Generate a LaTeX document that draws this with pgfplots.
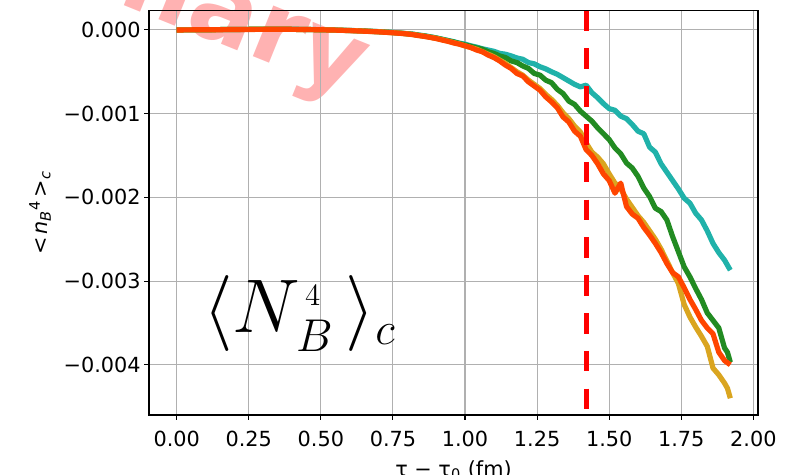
\RequirePackage{fix-cm}
\documentclass[border=0pt]{standalone}
\usepackage{pgfplots}
\pgfplotsset{compat=1.18}
\usepackage{fontspec}
\setmainfont{DejaVu Sans}
\newfontfamily\wmfont{DejaVu Sans}
\DeclareMathSizes{38}{38}{23}{15.5}
\definecolor{cteal}{RGB}{32,178,170}
\definecolor{cgreen}{RGB}{34,139,34}
\definecolor{cgold}{RGB}{218,165,32}
\definecolor{corange}{RGB}{255,69,0}
\definecolor{cgrid}{RGB}{176,176,176}

\pgfplotstableread{
x y
0.00 0
0.05 0.000001
0.10 0.000003
0.15 0.000004
0.20 0.000006
0.25 0.000007
0.30 0.000008
0.35 0.000009
0.40 0.000008
0.45 0.000006
0.50 0.000003
0.55 -0.000001
0.60 -0.000006
0.65 -0.000012
0.70 -0.00002
0.75 -0.00003
0.78 -0.000038
0.80 -0.000045
0.82 -0.00005
0.84 -0.000062
0.86 -0.00007
0.88 -0.000082
0.90 -0.000095
0.92 -0.00011
0.94 -0.000125
0.96 -0.00014
0.98 -0.000158
1.00 -0.00017
1.02 -0.00019
1.04 -0.000205
1.06 -0.000225
1.08 -0.00024
1.10 -0.000255
1.12 -0.00028
1.14 -0.00029
1.16 -0.00031
1.18 -0.000335
1.20 -0.00035
1.22 -0.00039
1.24 -0.000405
1.26 -0.00044
1.28 -0.000465
1.30 -0.0005
1.32 -0.00053
1.34 -0.00057
1.36 -0.00061
1.38 -0.00065
1.40 -0.00068
1.42 -0.00066
1.44 -0.00075
1.46 -0.00081
1.48 -0.00088
1.50 -0.00094
1.52 -0.00096
1.54 -0.00103
1.56 -0.00106
1.58 -0.00113
1.60 -0.00121
1.62 -0.00124
1.64 -0.00140
1.66 -0.00146
1.68 -0.00160
1.70 -0.00170
1.72 -0.00180
1.74 -0.00190
1.76 -0.00201
1.78 -0.00207
1.80 -0.00219
1.82 -0.00227
1.84 -0.00240
1.86 -0.00255
1.88 -0.00266
1.90 -0.00275
1.92 -0.00287
}\tealdata

\pgfplotstableread{
x y
0.00 0
0.05 0.000001
0.10 0.000002
0.15 0.000004
0.20 0.000005
0.25 0.000007
0.30 0.000008
0.35 0.000008
0.40 0.000007
0.45 0.000005
0.50 0.000002
0.55 -0.000002
0.60 -0.000007
0.65 -0.000013
0.70 -0.000021
0.75 -0.000032
0.78 -0.00004
0.80 -0.000046
0.82 -0.000053
0.84 -0.000063
0.86 -0.000072
0.88 -0.000085
0.90 -0.000097
0.92 -0.000112
0.94 -0.000128
0.96 -0.000143
0.98 -0.000162
1.00 -0.00018
1.02 -0.000195
1.04 -0.000215
1.06 -0.00023
1.08 -0.00026
1.10 -0.00028
1.12 -0.00031
1.14 -0.00033
1.16 -0.00037
1.18 -0.00039
1.20 -0.00043
1.22 -0.00046
1.24 -0.00052
1.26 -0.00054
1.28 -0.0006
1.30 -0.00063
1.32 -0.00071
1.34 -0.00076
1.36 -0.00085
1.38 -0.00089
1.40 -0.00097
1.42 -0.00103
1.44 -0.00109
1.46 -0.00117
1.48 -0.00124
1.50 -0.00131
1.52 -0.00141
1.54 -0.00148
1.56 -0.00159
1.58 -0.00165
1.60 -0.00175
1.62 -0.00189
1.64 -0.00199
1.66 -0.00213
1.68 -0.00217
1.70 -0.00227
1.72 -0.00247
1.74 -0.00265
1.76 -0.00283
1.78 -0.00295
1.80 -0.00309
1.82 -0.00322
1.84 -0.00338
1.86 -0.00347
1.88 -0.00356
1.90 -0.00380
1.91 -0.00385
1.92 -0.00397
}\greendata

\pgfplotstableread{
x y
0.00 0
0.05 0.000001
0.10 0.000002
0.15 0.000004
0.20 0.000006
0.25 0.000007
0.30 0.000008
0.35 0.000008
0.40 0.000007
0.45 0.000005
0.50 0.000002
0.55 -0.000002
0.60 -0.000007
0.65 -0.000014
0.70 -0.000022
0.75 -0.000033
0.78 -0.00004
0.80 -0.000047
0.82 -0.000055
0.84 -0.000066
0.86 -0.000075
0.88 -0.000088
0.90 -0.0001
0.92 -0.000116
0.94 -0.000133
0.96 -0.00015
0.98 -0.000168
1.00 -0.00019
1.02 -0.00021
1.04 -0.00023
1.06 -0.00026
1.08 -0.00029
1.10 -0.00032
1.12 -0.00036
1.14 -0.0004
1.16 -0.00045
1.18 -0.0005
1.20 -0.00054
1.22 -0.0006
1.24 -0.00065
1.26 -0.0007
1.28 -0.00077
1.30 -0.00083
1.32 -0.0009
1.34 -0.00099
1.36 -0.00106
1.38 -0.00115
1.40 -0.00122
1.42 -0.00135
1.44 -0.00146
1.46 -0.00152
1.48 -0.0016
1.50 -0.00172
1.52 -0.00183
1.54 -0.0019
1.56 -0.00202
1.58 -0.00212
1.60 -0.00222
1.62 -0.0023
1.64 -0.0024
1.66 -0.0025
1.68 -0.00262
1.70 -0.00276
1.72 -0.0029
1.74 -0.00303
1.76 -0.00328
1.78 -0.00343
1.80 -0.00355
1.82 -0.00366
1.84 -0.00378
1.86 -0.00404
1.88 -0.00412
1.90 -0.00422
1.91 -0.00428
1.92 -0.00440
}\golddata

\pgfplotstableread{
x y
0.00 0
0.05 0.000001
0.10 0.000002
0.15 0.000003
0.20 0.000005
0.25 0.000006
0.30 0.000007
0.35 0.000008
0.40 0.000007
0.45 0.000005
0.50 0.000002
0.55 -0.000002
0.60 -0.000008
0.65 -0.000015
0.70 -0.000023
0.75 -0.000034
0.78 -0.000042
0.80 -0.000048
0.82 -0.000057
0.84 -0.000068
0.86 -0.000078
0.88 -0.00009
0.90 -0.000103
0.92 -0.00012
0.94 -0.000135
0.96 -0.000155
0.98 -0.00017
1.00 -0.00019
1.02 -0.00021
1.04 -0.00024
1.06 -0.00026
1.08 -0.0003
1.10 -0.00033
1.12 -0.00037
1.14 -0.00042
1.16 -0.00046
1.18 -0.00052
1.20 -0.00055
1.22 -0.00062
1.24 -0.00067
1.26 -0.00072
1.28 -0.0008
1.30 -0.00086
1.32 -0.00093
1.34 -0.00104
1.36 -0.0011
1.38 -0.00121
1.40 -0.00127
1.42 -0.00143
1.44 -0.0015
1.46 -0.0016
1.48 -0.00172
1.50 -0.0018
1.52 -0.00195
1.54 -0.00183
1.56 -0.00211
1.58 -0.0022
1.60 -0.00225
1.62 -0.00236
1.64 -0.00245
1.66 -0.00255
1.68 -0.00266
1.70 -0.00279
1.72 -0.0029
1.74 -0.00295
1.76 -0.00308
1.78 -0.00322
1.80 -0.00334
1.82 -0.00347
1.84 -0.00356
1.86 -0.00363
1.88 -0.00385
1.90 -0.00395
1.92 -0.00400
}\orangedata

\begin{document}
\begin{tikzpicture}
\useasboundingbox (0,0) rectangle (400pt,237.5pt);
\node[rotate=-22, anchor=base east, text=red, opacity=0.3, inner sep=0pt,
      font=\wmfont\fontsize{50}{50}\selectfont\bfseries] at (176pt,189pt) {Preliminary};
\begin{axis}[
  at={(74.5pt,30pt)}, anchor=south west,
  scale only axis, width=304.5pt, height=202.15pt,
  xmin=-0.096, xmax=2.016, ymin=-0.0046, ymax=0.00023,
  scaled x ticks=false, scaled y ticks=false,
  xtick={0,0.25,0.5,0.75,1,1.25,1.5,1.75,2},
  xticklabels={0.00,0.25,0.50,0.75,1.00,1.25,1.50,1.75,2.00},
  ytick={-0.004,-0.003,-0.002,-0.001,0},
  yticklabels={−0.004,−0.003,−0.002,−0.001,0.000},
  tick pos=left, tick align=outside, major tick length=2.4pt,
  tick style={black, line width=0.55pt},
  axis line style={line width=0.55pt},
  grid=major, grid style={cgrid, line width=0.55pt},
  ticklabel style={font=\fontsize{10.4}{12}\selectfont},
  xticklabel style={anchor=base, inner sep=0pt, yshift=-13.5pt},
  yticklabel style={anchor=east, inner sep=0pt, xshift=-1.6pt},
  xlabel={τ − τ\textsubscript{0} (fm)},
  ylabel={<\kern1.5pt\textit{n}\textsubscript{\textit{B}}\textsuperscript{4}\kern1.5pt>\textsubscript{\textit{c}}},
  label style={font=\fontsize{10.4}{12}\selectfont},
  xlabel style={at={(axis description cs:0.5,-0.151)}, anchor=base, inner sep=0pt},
  ylabel style={at={(axis description cs:-0.179,0.5)}, anchor=center, rotate=0, inner sep=0pt},
  clip=true,
]
\node[anchor=base west, inner sep=0pt, font=\fontsize{38}{40}\selectfont] at (axis cs:0.09,-0.003618) {$\langle N_{\kern2pt B}^{\kern2.5pt\scriptscriptstyle 4}\kern6pt\rangle_c$};
\addplot[cteal, line width=2.6pt, line join=round, no markers] table[x=x,y=y] {\tealdata};
\addplot[cgreen, line width=2.6pt, line join=round, no markers] table[x=x,y=y] {\greendata};
\addplot[cgold, line width=2.6pt, line join=round, no markers] table[x=x,y=y] {\golddata};
\addplot[corange, line width=2.6pt, line join=round, no markers] table[x=x,y=y] {\orangedata};
\addplot[red, line width=2.6pt, dash pattern=on 10.3pt off 8.6pt] coordinates {(1.42,0.00023) (1.42,-0.0046)};
\end{axis}
\end{tikzpicture}
\end{document}
